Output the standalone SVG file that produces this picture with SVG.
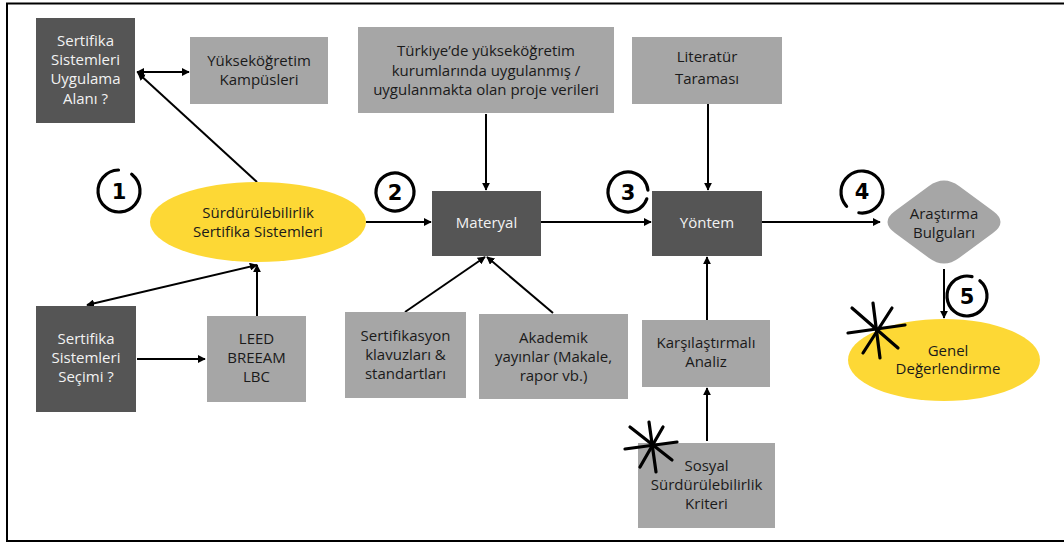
<svg xmlns="http://www.w3.org/2000/svg" width="1064" height="543" viewBox="0 0 1064 543">
<style>
.dark{fill:#555555}
.grey{fill:#a6a6a6}
.yel{fill:#fdd835}
.t{font-family:"Open Sans","Liberation Sans",sans-serif;font-size:15px;text-anchor:middle;dominant-baseline:central}
.tw{fill:#f2f2f2}
.tb{fill:#1a1a1a}
.c{fill:none;stroke:#000;stroke-width:2}
.num{fill:none;stroke:#000;stroke-width:3.2;stroke-linecap:round;stroke-dasharray:116 14}
.nt{font-family:"DejaVu Sans","Liberation Sans",sans-serif;font-weight:bold;font-size:21px;text-anchor:middle;dominant-baseline:central;fill:#000}
.ast{stroke:#000;stroke-width:3.2;stroke-linecap:round}
</style>
<defs>
<marker id="ah" viewBox="0 0 10 10" refX="9" refY="5" markerWidth="8" markerHeight="8" markerUnits="userSpaceOnUse" orient="auto-start-reverse">
<path d="M0,0 L10,5 L0,10 z" fill="#000"/>
</marker>
</defs>
<rect x="0" y="0" width="1064" height="543" fill="#fff"/>
<path d="M1070,3.5 L7,3.5 L7,541 L1070,541" fill="none" stroke="#000" stroke-width="2"/>

<g id="connectors">
<line class="c" x1="137" y1="72" x2="189" y2="72" marker-start="url(#ah)" marker-end="url(#ah)"/>
<line class="c" x1="257" y1="182" x2="138" y2="73" marker-end="url(#ah)"/>
<line class="c" x1="257" y1="265" x2="87" y2="305" marker-start="url(#ah)" marker-end="url(#ah)"/>
<line class="c" x1="137" y1="359" x2="205" y2="359" marker-end="url(#ah)"/>
<line class="c" x1="257" y1="316" x2="257" y2="265" marker-end="url(#ah)"/>
<line class="c" x1="366" y1="222" x2="431" y2="222" marker-end="url(#ah)"/>
<line class="c" x1="486" y1="114" x2="486" y2="190" marker-end="url(#ah)"/>
<line class="c" x1="405" y1="312" x2="485" y2="257" marker-end="url(#ah)"/>
<line class="c" x1="553" y1="313" x2="487" y2="257" marker-end="url(#ah)"/>
<line class="c" x1="541" y1="222" x2="651" y2="222" marker-end="url(#ah)"/>
<line class="c" x1="708" y1="104" x2="708" y2="190" marker-end="url(#ah)"/>
<line class="c" x1="707" y1="320" x2="707" y2="257" marker-end="url(#ah)"/>
<line class="c" x1="707" y1="441" x2="707" y2="388" marker-end="url(#ah)"/>
<line class="c" x1="762" y1="222" x2="880" y2="222" marker-end="url(#ah)"/>
<line class="c" x1="944" y1="269" x2="944" y2="318" marker-end="url(#ah)"/>
</g>

<g id="n-uygulama">
<rect class="dark" x="36" y="18" width="99" height="105"/>
<text class="t tw" x="85.5" y="40">Sertifika</text>
<text class="t tw" x="85.5" y="59">Sistemleri</text>
<text class="t tw" x="85.5" y="78">Uygulama</text>
<text class="t tw" x="85.5" y="98">Alanı ?</text>
</g>
<g id="n-kampus">
<rect class="grey" x="190" y="37" width="138" height="67"/>
<text class="t tb" x="259" y="60">Yükseköğretim</text>
<text class="t tb" x="259" y="79">Kampüsleri</text>
</g>
<g id="n-surdur">
<ellipse class="yel" cx="258" cy="222" rx="108" ry="40"/>
<text class="t tb" x="258" y="212">Sürdürülebilirlik</text>
<text class="t tb" x="258" y="231">Sertifika Sistemleri</text>
</g>
<g id="n-secim">
<rect class="dark" x="36" y="306" width="100" height="106"/>
<text class="t tw" x="86" y="338">Sertifika</text>
<text class="t tw" x="86" y="357">Sistemleri</text>
<text class="t tw" x="86" y="376">Seçimi ?</text>
</g>
<g id="n-leed">
<rect class="grey" x="207" y="316" width="99" height="86"/>
<text class="t tb" x="256.5" y="338">LEED</text>
<text class="t tb" x="256.5" y="357">BREEAM</text>
<text class="t tb" x="256.5" y="376">LBC</text>
</g>
<g id="n-turkiye">
<rect class="grey" x="358" y="27" width="256" height="86"/>
<text class="t tb" x="486" y="50">Türkiye’de yükseköğretim</text>
<text class="t tb" x="486" y="70">kurumlarında uygulanmış /</text>
<text class="t tb" x="486" y="89">uygulanmakta olan proje verileri</text>
</g>
<g id="n-materyal">
<rect class="dark" x="432" y="191" width="109" height="65"/>
<text class="t tw" x="486.5" y="222">Materyal</text>
</g>
<g id="n-sertifikasyon">
<rect class="grey" x="345" y="312" width="121" height="86"/>
<text class="t tb" x="405.5" y="335">Sertifikasyon</text>
<text class="t tb" x="405.5" y="354">klavuzları &amp;</text>
<text class="t tb" x="405.5" y="373">standartları</text>
</g>
<g id="n-akademik">
<rect class="grey" x="479" y="314" width="149" height="85"/>
<text class="t tb" x="553.5" y="337">Akademik</text>
<text class="t tb" x="553.5" y="356">yayınlar (Makale,</text>
<text class="t tb" x="553.5" y="375">rapor vb.)</text>
</g>
<g id="n-literatur">
<rect class="grey" x="632" y="37" width="150" height="67"/>
<text class="t tb" x="707" y="56">Literatür</text>
<text class="t tb" x="707" y="78">Taraması</text>
</g>
<g id="n-yontem">
<rect class="dark" x="652" y="191" width="110" height="65"/>
<text class="t tw" x="707" y="222">Yöntem</text>
</g>
<g id="n-karsi">
<rect class="grey" x="642" y="320" width="128" height="67"/>
<text class="t tb" x="706" y="342">Karşılaştırmalı</text>
<text class="t tb" x="706" y="361">Analiz</text>
</g>
<g id="n-sosyal">
<rect class="grey" x="638" y="443" width="137" height="85"/>
<text class="t tb" x="706.5" y="465">Sosyal</text>
<text class="t tb" x="706.5" y="484">Sürdürülebilirlik</text>
<text class="t tb" x="706.5" y="503">Kriteri</text>
<line class="ast" x1="630" y1="427" x2="672" y2="460"/>
<line class="ast" x1="649" y1="422" x2="656" y2="472"/>
<line class="ast" x1="625" y1="449" x2="677" y2="442"/>
<line class="ast" x1="640" y1="467" x2="663" y2="427"/>
</g>
<g id="n-bulgular">
<path fill="#a6a6a6" d="M895,211 L929,186 Q944,175 959,186 L993,211 Q1008,222 993,233 L959,258 Q944,269 929,258 L895,233 Q880,222 895,211 Z"/>
<text class="t tb" x="944" y="213">Araştırma</text>
<text class="t tb" x="944" y="232">Bulguları</text>
</g>
<g id="n-genel">
<ellipse class="yel" cx="944" cy="360" rx="96" ry="41"/>
<text class="t tb" x="948" y="350">Genel</text>
<text class="t tb" x="948" y="368">Değerlendirme</text>
<line class="ast" x1="852" y1="308" x2="898" y2="348"/>
<line class="ast" x1="873" y1="303" x2="880" y2="358"/>
<line class="ast" x1="848" y1="333" x2="905" y2="325"/>
<line class="ast" x1="863" y1="353" x2="892" y2="308"/>
</g>

<g id="step-numbers">
<circle class="num" cx="119" cy="191" r="21" transform="rotate(-50 119 191)"/>
<text class="nt" x="119" y="192">1</text>
<circle class="num" cx="395" cy="192" r="19" transform="rotate(155 395 192)"/>
<text class="nt" x="395" y="193">2</text>
<circle class="num" cx="628" cy="192" r="20" transform="rotate(20 628 192)"/>
<text class="nt" x="628" y="193">3</text>
<circle class="num" cx="862" cy="192" r="21" transform="rotate(140 862 192)"/>
<text class="nt" x="862" y="192">4</text>
<circle class="num" cx="967" cy="296" r="20" transform="rotate(-50 967 296)"/>
<text class="nt" x="967" y="297">5</text>
</g>
</svg>
